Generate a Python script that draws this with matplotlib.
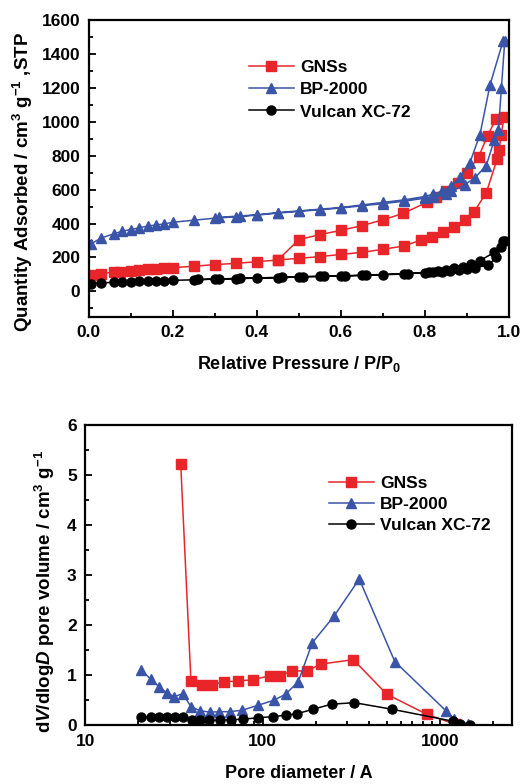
import numpy as np
import matplotlib.pyplot as plt
from matplotlib.ticker import MultipleLocator, LogLocator, NullFormatter, FixedLocator

plt.rcParams['font.family'] = ['Liberation Sans', 'DejaVu Sans']
plt.rcParams['font.weight'] = 'bold'
plt.rcParams['axes.labelweight'] = 'bold'
plt.rcParams['mathtext.fontset'] = 'custom'
plt.rcParams['mathtext.rm'] = 'Liberation Sans:bold'
plt.rcParams['mathtext.bf'] = 'Liberation Sans:bold'
plt.rcParams['mathtext.it'] = 'Liberation Sans:italic:bold'
plt.rcParams['mathtext.default'] = 'bf'

RED = '#e8262a'
BLUE = '#3a55a8'
BLACK = '#000000'

# isotherms: relative pressure vs quantity adsorbed (adsorption then desorption)
gns_p = [0.005, 0.03, 0.06, 0.075, 0.10, 0.12, 0.14, 0.16, 0.18, 0.20, 0.25, 0.30, 0.35,
         0.40, 0.45, 0.50, 0.55, 0.60, 0.65, 0.70, 0.75, 0.79, 0.817, 0.843, 0.87,
         0.895, 0.917, 0.946, 0.972, 0.977, 0.981, 0.989,
         0.969, 0.949, 0.928, 0.90, 0.879, 0.851, 0.827, 0.806, 0.748, 0.70,
         0.65, 0.60, 0.55, 0.50, 0.45]
gns_q = [95, 105, 113, 117, 122, 126, 130, 133, 135, 140, 148, 158, 165,
         175, 185, 195, 205, 218, 230, 248, 268, 302, 318, 353, 380,
         420, 470, 582, 782, 837, 925, 1030,
         1018, 918, 796, 700, 641, 592, 557, 527, 460, 422,
         388, 360, 335, 305, 185]

bp_p = [0.005, 0.03, 0.06, 0.08, 0.10, 0.12, 0.14, 0.16, 0.18, 0.20, 0.25, 0.30, 0.35,
        0.40, 0.45, 0.50, 0.55, 0.60, 0.65, 0.70, 0.75, 0.80, 0.82, 0.85, 0.863,
        0.895, 0.919, 0.946, 0.965, 0.975, 0.982, 0.99,
        0.986, 0.955, 0.931, 0.907, 0.883, 0.863, 0.84, 0.82, 0.80, 0.75, 0.70,
        0.65, 0.60, 0.55, 0.50, 0.45, 0.40, 0.36, 0.31]
bp_q = [280, 315, 340, 355, 365, 375, 385, 392, 398, 408, 420, 432, 440,
        450, 462, 472, 482, 492, 505, 518, 532, 550, 560, 575, 590,
        630, 670, 743, 892, 955, 1200, 1478,
        1478, 1220, 925, 760, 675, 620, 590, 575, 560, 540, 525,
        510, 495, 485, 475, 465, 452, 445, 437]

vx_p = [0.005, 0.03, 0.06, 0.08, 0.10, 0.12, 0.14, 0.16, 0.18, 0.20, 0.25, 0.30, 0.35,
        0.40, 0.45, 0.50, 0.55, 0.60, 0.65, 0.70, 0.75, 0.80, 0.82, 0.84, 0.86,
        0.88, 0.90, 0.92, 0.95, 0.97, 0.98, 0.99,
        0.985, 0.965, 0.93, 0.91, 0.89, 0.87, 0.85, 0.83, 0.81, 0.76, 0.66,
        0.61, 0.56, 0.51, 0.46, 0.36, 0.31, 0.26]
vx_q = [45, 50, 53, 55, 57, 59, 60, 62, 63, 65, 68, 72, 75,
        78, 80, 85, 88, 90, 94, 98, 102, 110, 113, 117, 120,
        125, 132, 140, 155, 200, 260, 300,
        300, 230, 180, 160, 145, 135, 125, 118, 114, 105, 96,
        92, 89, 87, 83, 77, 73, 70]

# pore size distributions
gns_d = [34.6, 39.5, 45.4, 52.1, 61, 72.4, 88.3, 110.7, 125.6, 146, 177, 213, 325, 501, 841, 1216]
gns_v = [5.21, 0.88, 0.81, 0.81, 0.87, 0.88, 0.91, 0.99, 0.98, 1.09, 1.08, 1.22, 1.31, 0.62, 0.22, 0.02]

bp_d = [20.7, 23.4, 26.1, 28.8, 31.8, 35.5, 39.5, 44.4, 50.6, 57, 65.5, 76.9, 94.7, 116, 135,
        159, 191, 253, 351, 557, 1080, 1202, 1443]
bp_v = [1.11, 0.92, 0.77, 0.65, 0.57, 0.63, 0.37, 0.29, 0.26, 0.27, 0.27, 0.30, 0.40, 0.50, 0.62,
        0.87, 1.65, 2.18, 2.92, 1.27, 0.29, 0.12, 0.02]

vx_d = [20.7, 23.5, 26.2, 29.1, 32.2, 35.5, 39.9, 44.4, 50.2, 57.7, 66.5, 78, 94.7, 114, 135,
        157, 193, 245, 329, 535, 1180, 1297, 1476]
vx_v = [0.17, 0.17, 0.17, 0.16, 0.16, 0.16, 0.11, 0.11, 0.10, 0.10, 0.11, 0.12, 0.15, 0.17, 0.20,
        0.23, 0.32, 0.42, 0.45, 0.32, 0.08, 0.03, 0.01]

fig = plt.figure(figsize=(5.22, 7.84), dpi=100)
ax1 = fig.add_axes([0.170, 0.596, 0.805, 0.378])
ax2 = fig.add_axes([0.163, 0.075, 0.818, 0.383])

mk = dict(lw=1.1, ms=6.5)
ax1.plot(gns_p, gns_q, '-s', color=RED, label='GNSs', **mk)
ax1.plot(bp_p, bp_q, '-^', color=BLUE, label='BP-2000', **mk)
ax1.plot(vx_p, vx_q, '-o', color=BLACK, label='Vulcan XC-72', **mk)
ax1.set_xlim(0, 1.0)
ax1.set_ylim(-150, 1600)
ax1.xaxis.set_minor_locator(MultipleLocator(0.1))
ax1.yaxis.set_major_locator(MultipleLocator(200))
ax1.yaxis.set_minor_locator(MultipleLocator(100))
ax1.set_xticks([0, 0.2, 0.4, 0.6, 0.8, 1.0], ['0.0', '0.2', '0.4', '0.6', '0.8', '1.0'])
ax1.set_xlabel('Relative Pressure / P/P$_{0}$', fontsize=13, labelpad=10)
ax1.set_ylabel('Quantity Adsorbed / cm$^{3}$ g$^{-1}$ ,STP', fontsize=13.5)
ax1.yaxis.set_label_coords(-0.127, 0.455)

ax2.plot(gns_d, gns_v, '-s', color=RED, label='GNSs', **mk)
ax2.plot(bp_d, bp_v, '-^', color=BLUE, label='BP-2000', **mk)
ax2.plot(vx_d, vx_v, '-o', color=BLACK, label='Vulcan XC-72', **mk)
ax2.set_xscale('log')
ax2.set_xlim(10, 2550)
ax2.set_ylim(0, 6)
ax2.xaxis.set_major_locator(FixedLocator([10, 100, 1000]))
ax2.xaxis.set_minor_locator(LogLocator(base=10, subs=np.arange(2, 10)))
ax2.xaxis.set_minor_formatter(NullFormatter())
ax2.set_xticklabels(['10', '100', '1000'])
ax2.yaxis.set_major_locator(MultipleLocator(1))
ax2.yaxis.set_minor_locator(MultipleLocator(0.5))
ax2.set_xlabel('Pore diameter / A', fontsize=13, labelpad=12)
ax2.set_ylabel(r'd$\mathit{V}$/dlog$\mathit{D}$ pore volume / cm$^{3}$ g$^{-1}$', fontsize=13.5)
ax2.yaxis.set_label_coords(-0.065, 0.445)

for ax in (ax1, ax2):
    for s in ax.spines.values():
        s.set_linewidth(1.6)
    ax.tick_params(which='both', direction='in', width=1.3, labelsize=12.5, top=False, right=False)
    ax.tick_params(which='major', length=5, pad=6)
    ax.tick_params(which='minor', length=3)
    for lbl in ax.get_xticklabels() + ax.get_yticklabels():
        lbl.set_fontweight('bold')

ax1.legend(loc='upper left', bbox_to_anchor=(0.36, 0.895), frameon=False, fontsize=12.5,
           handlelength=2.6, handletextpad=0.35, labelspacing=0.4, borderpad=0)
ax2.legend(loc='upper left', bbox_to_anchor=(0.55, 0.86), frameon=False, fontsize=12.5,
           handlelength=2.6, handletextpad=0.35, labelspacing=0.35, borderpad=0)

plt.savefig('out.png', dpi=100)
